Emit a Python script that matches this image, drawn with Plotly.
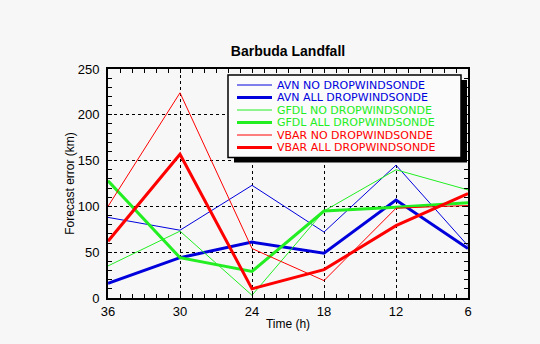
import plotly.graph_objects as go

# Forecast lead time (hours before landfall)
lead_times = [36, 30, 24, 18, 12, 6]

# Track forecast errors (km)
avn_no = [88, 74, 123, 72, 145, 57]
avn_all = [16, 44, 61, 49, 107, 54]
gfdl_no = [35, 73, 3, 95, 140, 118]
gfdl_all = [128, 44, 29, 95, 99, 104]
vbar_no = [100, 224, 54, 19, 98, 101]
vbar_all = [62, 157, 10, 31, 79, 114]

series_names = [
    "AVN NO DROPWINDSONDE",
    "AVN ALL DROPWINDSONDE",
    "GFDL NO DROPWINDSONDE",
    "GFDL ALL DROPWINDSONDE",
    "VBAR NO DROPWINDSONDE",
    "VBAR ALL DROPWINDSONDE",
]
series_values = [avn_no, avn_all, gfdl_no, gfdl_all, vbar_no, vbar_all]

BLUE = "#0000dd"
GREEN = "#22ee22"
RED = "#ff0000"
series_colors = [BLUE, BLUE, GREEN, GREEN, RED, RED]
series_widths = [1, 3, 1, 3, 1, 3]

W, H = 540, 344
L, R, T, B = 108, 468, 69, 298
BG = "#f7f7f7"
FONT = "Liberation Sans, Arial, sans-serif"
LEG_FONT = "DejaVu Sans, sans-serif"


def px_x(x):
    return (x - L) / (R - L)


def px_y(y):
    return (B - y) / (B - T)


fig = go.Figure()
for name, vals, col, wid in zip(series_names, series_values, series_colors, series_widths):
    fig.add_trace(go.Scatter(
        x=lead_times, y=vals, mode="lines", name=name,
        line=dict(color=col, width=wid), hoverinfo="skip",
    ))

# Boxed legend with a drop shadow
row0, row_step = 85, 12.5
box_top = 75
box_bottom = row0 + row_step * (len(series_names) - 1) + 10
shapes = [
    dict(type="rect", xref="paper", yref="paper",
         x0=px_x(234), x1=px_x(467), y0=px_y(box_bottom + 5), y1=px_y(box_top + 5),
         fillcolor="black", line=dict(width=0), layer="above"),
    dict(type="rect", xref="paper", yref="paper",
         x0=px_x(228), x1=px_x(461), y0=px_y(box_bottom), y1=px_y(box_top),
         fillcolor="#fbfbfb", line=dict(color="black", width=1.5), layer="above"),
]
annotations = []
for i, (name, col, wid) in enumerate(zip(series_names, series_colors, series_widths)):
    yc = row0 + i * row_step
    shapes.append(dict(type="line", xref="paper", yref="paper",
                       x0=px_x(237), x1=px_x(272), y0=px_y(yc), y1=px_y(yc),
                       line=dict(color=col, width=wid), layer="above"))
    annotations.append(dict(xref="paper", yref="paper", x=px_x(275), y=px_y(yc),
                            xanchor="left", yanchor="middle", text=name,
                            showarrow=False, font=dict(family=LEG_FONT, size=11, color=col)))

axis_common = dict(
    showline=True, linecolor="black", linewidth=2, mirror="allticks",
    ticks="inside", ticklen=4, tickcolor="black", tickwidth=1,
    showgrid=True, gridcolor="black", gridwidth=1, griddash="dot",
    zeroline=False, tickfont=dict(family=FONT, size=13, color="black"),
)

fig.update_layout(
    width=W, height=H,
    margin=dict(l=L, r=W - R, t=T, b=H - B),
    paper_bgcolor=BG, plot_bgcolor=BG,
    showlegend=False,
    title=dict(text="<b>Barbuda Landfall</b>", x=288 / W, xanchor="center",
               y=1 - 51 / H, yanchor="middle",
               font=dict(family=FONT, size=14, color="black")),
    xaxis=dict(axis_common, range=[36, 6], tickmode="array",
               tickvals=lead_times, ticktext=[str(t) for t in lead_times],
               minor=dict(dtick=1, ticks="inside", ticklen=4, tickcolor="black", showgrid=False),
               title=dict(text="Time (h)", font=dict(family=FONT, size=12, color="black"), standoff=2)),
    yaxis=dict(axis_common, range=[0, 250], dtick=50, ticklabelstandoff=4,
               minor=dict(dtick=10, ticks="inside", ticklen=4, tickcolor="black", showgrid=False),
               title=dict(text="Forecast error (km)", font=dict(family=FONT, size=12, color="black"), standoff=0)),
    shapes=shapes,
    annotations=annotations,
)

fig.write_html("out.html")
